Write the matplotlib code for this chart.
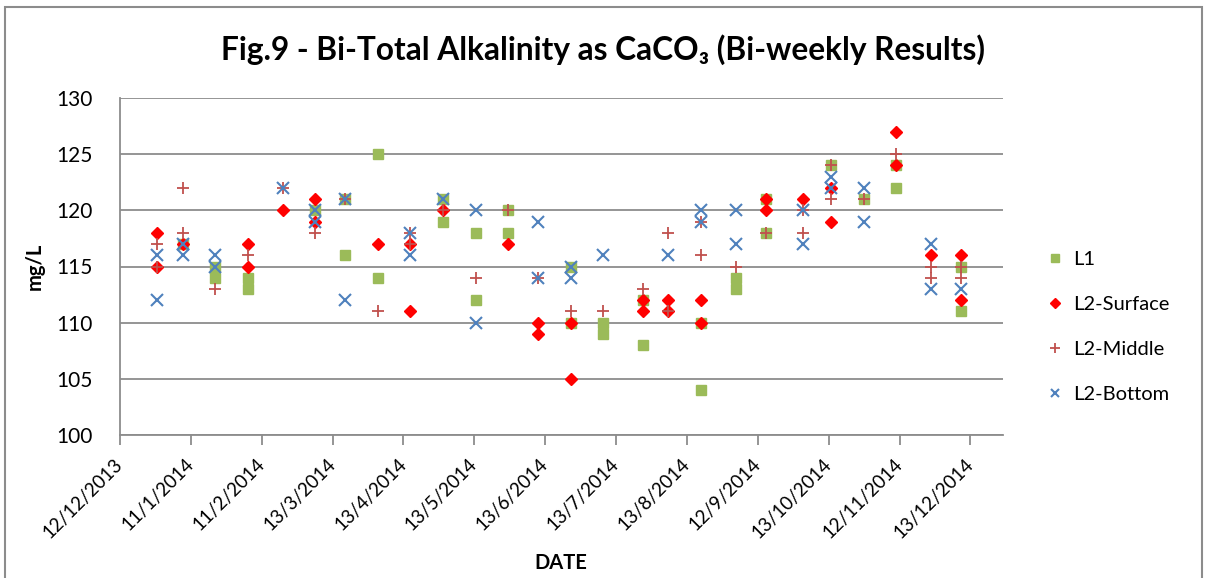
import numpy as np
import pandas as pd
import matplotlib
matplotlib.use("Agg")
import matplotlib.pyplot as plt
import matplotlib.dates as mdates
from matplotlib.patches import Rectangle

plt.rcParams['font.family'] = ['Lato', 'DejaVu Sans']

# sampling results (date, mg/L)
l1_dates = ['8/1/2014', '22/1/2014', '22/1/2014', '5/2/2014', '5/2/2014', '6/3/2014',
            '19/3/2014', '19/3/2014', '2/4/2014', '2/4/2014', '30/4/2014', '30/4/2014',
            '14/5/2014', '14/5/2014', '28/5/2014', '28/5/2014', '24/6/2014', '24/6/2014',
            '8/7/2014', '8/7/2014', '25/7/2014', '25/7/2014', '19/8/2014', '19/8/2014',
            '3/9/2014', '3/9/2014', '16/9/2014', '16/9/2014', '14/10/2014', '28/10/2014',
            '11/11/2014', '11/11/2014', '9/12/2014', '9/12/2014']
l1_vals = [117, 115, 114, 114, 113, 120, 121, 116, 125, 114, 121, 119, 118, 112, 120, 118,
           115, 110, 110, 109, 112, 108, 110, 104, 114, 113, 121, 118, 124, 121, 124, 122,
           115, 111]

surf_dates = ['28/12/2013', '28/12/2013', '8/1/2014', '5/2/2014', '5/2/2014', '20/2/2014',
              '6/3/2014', '6/3/2014', '2/4/2014', '16/4/2014', '16/4/2014', '30/4/2014',
              '28/5/2014', '10/6/2014', '10/6/2014', '24/6/2014', '24/6/2014', '25/7/2014',
              '25/7/2014', '5/8/2014', '5/8/2014', '19/8/2014', '19/8/2014', '16/9/2014',
              '16/9/2014', '2/10/2014', '14/10/2014', '14/10/2014', '11/11/2014', '11/11/2014',
              '26/11/2014', '9/12/2014', '9/12/2014']
surf_vals = [118, 115, 117, 117, 115, 120, 121, 119, 117, 117, 111, 120, 117, 110, 109, 110,
             105, 112, 111, 112, 111, 112, 110, 121, 120, 121, 122, 119, 127, 124, 116, 116,
             112]

mid_dates = ['28/12/2013', '28/12/2013', '8/1/2014', '8/1/2014', '22/1/2014', '5/2/2014',
             '20/2/2014', '6/3/2014', '19/3/2014', '2/4/2014', '16/4/2014', '16/4/2014',
             '30/4/2014', '14/5/2014', '28/5/2014', '10/6/2014', '24/6/2014', '8/7/2014',
             '25/7/2014', '5/8/2014', '5/8/2014', '19/8/2014', '19/8/2014', '3/9/2014',
             '16/9/2014', '2/10/2014', '2/10/2014', '14/10/2014', '14/10/2014', '28/10/2014',
             '11/11/2014', '26/11/2014', '26/11/2014', '9/12/2014', '9/12/2014']
mid_vals = [117, 115, 122, 118, 113, 116, 122, 118, 121, 111, 118, 117, 120, 114, 120, 114,
            111, 111, 113, 118, 111, 119, 116, 115, 118, 120, 118, 124, 121, 121, 125, 115,
            114, 115, 114]

bot_dates = ['28/12/2013', '28/12/2013', '8/1/2014', '8/1/2014', '22/1/2014', '22/1/2014',
             '20/2/2014', '6/3/2014', '6/3/2014', '19/3/2014', '19/3/2014', '16/4/2014',
             '16/4/2014', '30/4/2014', '14/5/2014', '14/5/2014', '10/6/2014', '10/6/2014',
             '24/6/2014', '24/6/2014', '8/7/2014', '5/8/2014', '19/8/2014', '19/8/2014',
             '3/9/2014', '3/9/2014', '2/10/2014', '2/10/2014', '14/10/2014', '14/10/2014',
             '28/10/2014', '28/10/2014', '26/11/2014', '26/11/2014', '9/12/2014']
bot_vals = [116, 112, 117, 116, 116, 115, 122, 120, 119, 121, 112, 118, 116, 121, 120, 110,
            119, 114, 115, 114, 116, 116, 120, 119, 120, 117, 120, 117, 123, 122, 122, 119,
            117, 113, 113]

tick_labels = ['12/12/2013', '11/1/2014', '11/2/2014', '13/3/2014', '13/4/2014', '13/5/2014',
               '13/6/2014', '13/7/2014', '13/8/2014', '12/9/2014', '13/10/2014', '12/11/2014',
               '13/12/2014']


def to_num(dates):
    return mdates.date2num(pd.to_datetime(dates, dayfirst=True))


fig = plt.figure(figsize=(12.05, 5.78), dpi=100)
ax = fig.add_axes([120 / 1205, 1 - 435 / 578, 883 / 1205, 337 / 578])

# outer chart border
fig.patches.append(Rectangle((5 / 1205, -0.05), 1197 / 1205, 1.05 - 7 / 578,
                             transform=fig.transFigure, fill=False,
                             edgecolor='#8c8c8c', linewidth=1.5))

ax.plot(to_num(l1_dates), l1_vals, 's', color='#9BBB59', ms=7.3, mec='#9BBB59', label='L1')
ax.plot(to_num(surf_dates), surf_vals, 'D', color='#FF0000', ms=6, label='L2-Surface')
ax.plot(to_num(mid_dates), mid_vals, '+', color='#C0504D', ms=9, mew=1.3, label='L2-Middle')
ax.plot(to_num(bot_dates), bot_vals, 'x', color='#4F81BD', ms=8, mew=1.5, label='L2-Bottom')

start = to_num(['12/12/2013'])[0]
ax.set_xlim(start, start + 380)
ax.set_ylim(100, 130)
ax.set_yticks(np.arange(100, 131, 5))
ax.set_xticks(start + 30.5 * np.arange(len(tick_labels)))
ax.set_xticklabels(tick_labels, rotation=45, ha='right', va='center',
                   rotation_mode='anchor', fontsize=13.5)
for lab in ax.get_xticklabels():
    lab.set_x(lab.get_position()[0])
    lab.set_y(-0.035)
ax.tick_params(axis='y', length=0, pad=20, labelsize=15)
ax.tick_params(axis='x', length=7, width=1.3, color='#8c8c8c', direction='out')

ax.grid(axis='y', color='#8c8c8c', linewidth=1.3)
ax.set_axisbelow(True)
for s in ['top', 'right']:
    ax.spines[s].set_visible(False)
for s in ['left', 'bottom']:
    ax.spines[s].set_color('#8c8c8c')
    ax.spines[s].set_linewidth(1.3)

ax.set_ylabel('mg/L', fontsize=14.5, fontweight='bold', labelpad=8)
fig.text(561 / 1205, 1 - 563 / 578, 'DATE', ha='center', va='center',
         fontsize=14.5, fontweight='bold')
fig.text(603 / 1205, 1 - 50 / 578, 'Fig.9 - Bi-Total Alkalinity as CaCO\u2083 (Bi-weekly Results)',
         ha='center', va='center', fontsize=22.8, fontweight='bold')

ax.legend(loc='center left', bbox_to_anchor=(1027 / 1205, 1 - 327 / 578),
          bbox_transform=fig.transFigure, frameon=False, fontsize=14.5,
          handlelength=1.0, handletextpad=0.4, labelspacing=1.4, markerscale=0.8)

fig.savefig('out.png', dpi=100)
